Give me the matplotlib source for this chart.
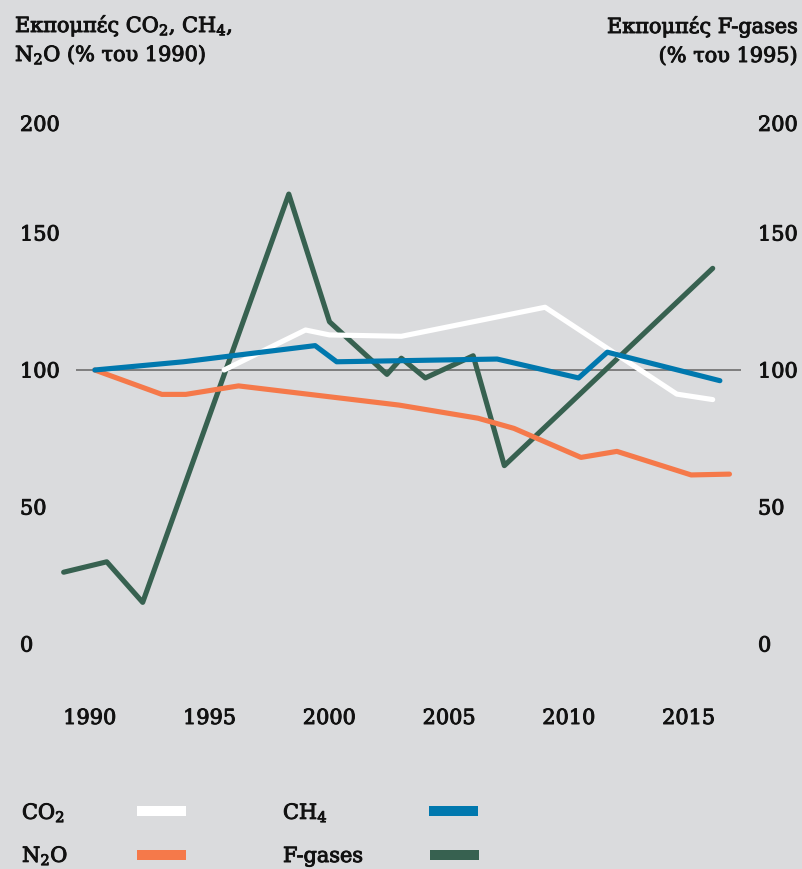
import matplotlib.pyplot as plt
import matplotlib.patheffects as pe
from matplotlib.lines import Line2D

# data
co2_years = [1995.6, 1999.0, 2000.0, 2003.0, 2009.0, 2014.5, 2016.0]
co2_vals = [100.0, 114.6, 112.8, 112.3, 122.9, 91.2, 89.2]

ch4_years = [1990.2, 1993.9, 1999.4, 2000.3, 2007.0, 2010.4, 2011.6, 2016.3]
ch4_vals = [100.0, 103.0, 108.9, 103.0, 104.0, 97.1, 106.5, 96.1]

n2o_years = [1990.2, 1993.0, 1994.0, 1996.2, 2002.9, 2006.2, 2007.7, 2010.5, 2012.0, 2015.1, 2016.7]
n2o_vals = [100.0, 91.1, 91.1, 94.2, 87.2, 82.4, 78.7, 68.1, 70.3, 61.7, 62.0]

fg_years = [1988.9, 1990.7, 1992.2, 1998.3, 2000.0, 2002.4, 2003.0, 2004.0, 2006.0, 2007.3, 2016.0]
fg_vals = [26.2, 30.0, 15.2, 164.2, 117.6, 98.4, 104.3, 97.1, 105.2, 65.1, 137.1]

xticks = [1990, 1995, 2000, 2005, 2010, 2015]
ytick_labels = ['0', '50', '100', '150', '200']

bg = '#dadbdd'
c_co2 = '#ffffff'
c_ch4 = '#0078ae'
c_n2o = '#f5794a'
c_fg = '#376150'
txt_col = '#111111'

plt.rcParams['font.family'] = ['DejaVu Serif']
plt.rcParams['mathtext.fontset'] = 'dejavuserif'
fs = 15
heavy = [pe.withStroke(linewidth=0.7, foreground=txt_col)]

fig = plt.figure(figsize=(8.03, 8.70), dpi=100, facecolor=bg)
W, H = 803, 870
left_px, right_px = 55, 745
ax = fig.add_axes([left_px / W, (H - 672.4) / H, (right_px - left_px) / W, 575.4 / H])
ax.set_facecolor(bg)
px_per_year = 23.95
ax.set_xlim(1990 + (left_px - 90) / px_per_year, 1990 + (right_px - 90) / px_per_year)
ax.set_ylim(-10, 200)

for s in ax.spines.values():
    s.set_visible(False)

ax.hlines(100, 1989.42, 2017.18, color='#777777', lw=1.3, zorder=1)

lw = 3.7
ax.plot(fg_years, fg_vals, color=c_fg, lw=lw, solid_capstyle='round', clip_on=False, zorder=2)
ax.plot(n2o_years, n2o_vals, color=c_n2o, lw=lw, solid_capstyle='round', clip_on=False, zorder=3)
ax.plot(co2_years, co2_vals, color=c_co2, lw=lw, solid_capstyle='round', clip_on=False, zorder=4)
ax.plot(ch4_years, ch4_vals, color=c_ch4, lw=lw, solid_capstyle='round', clip_on=False, zorder=5)

# ticks: top label sits lower than its value, as in the reference
ytick_pos = [0, 50, 100, 150, 190]
ax.set_yticks(ytick_pos)
ax.set_yticklabels(ytick_labels, ha='left')
ax.tick_params(axis='y', length=0, pad=(left_px - 20) * 0.72, labelsize=fs, labelcolor=txt_col)
ax.set_xticks(xticks)
ax.set_xticklabels([str(x) for x in xticks])
ax.tick_params(axis='x', length=0, pad=(720 - 672.4 - 10) * 0.72, labelsize=fs, labelcolor=txt_col)

ax2 = ax.twinx()
ax2.set_ylim(ax.get_ylim())
for s in ax2.spines.values():
    s.set_visible(False)
ax2.set_yticks(ytick_pos)
ax2.set_yticklabels(ytick_labels, ha='left')
ax2.tick_params(axis='y', length=0, pad=(758 - right_px) * 0.72, labelsize=fs, labelcolor=txt_col)

for lab in ax.get_xticklabels() + ax.get_yticklabels() + ax2.get_yticklabels():
    lab.set_path_effects(heavy)

# axis titles
tkw = dict(fontsize=fs, va='baseline', color=txt_col, path_effects=heavy)
fig.text(15 / W, 1 - 33 / H, 'Εκπομπές CO$_2$, CH$_4$,', ha='left', **tkw)
fig.text(15 / W, 1 - 62 / H, 'N$_2$O (% του 1990)', ha='left', **tkw)
fig.text(798 / W, 1 - 34 / H, 'Εκπομπές F-gases', ha='right', **tkw)
fig.text(798 / W, 1 - 63 / H, '(% του 1995)', ha='right', **tkw)

# legend
legend_items = [
    ('CO$_2$', c_co2, 22, 137, 820, 812),
    ('CH$_4$', c_ch4, 283, 429, 820, 812),
    ('N$_2$O', c_n2o, 22, 137, 863, 856),
    ('F-gases', c_fg, 283, 430, 863, 856),
]
for label, col, tx, sx, ty, sy in legend_items:
    fig.text(tx / W, 1 - ty / H, label, ha='left', **tkw)
    fig.add_artist(Line2D([sx / W, (sx + 49) / W], [1 - sy / H, 1 - sy / H],
                          transform=fig.transFigure, color=col, lw=7.2, solid_capstyle='butt'))

fig.savefig('out.png', dpi=100, facecolor=bg)
